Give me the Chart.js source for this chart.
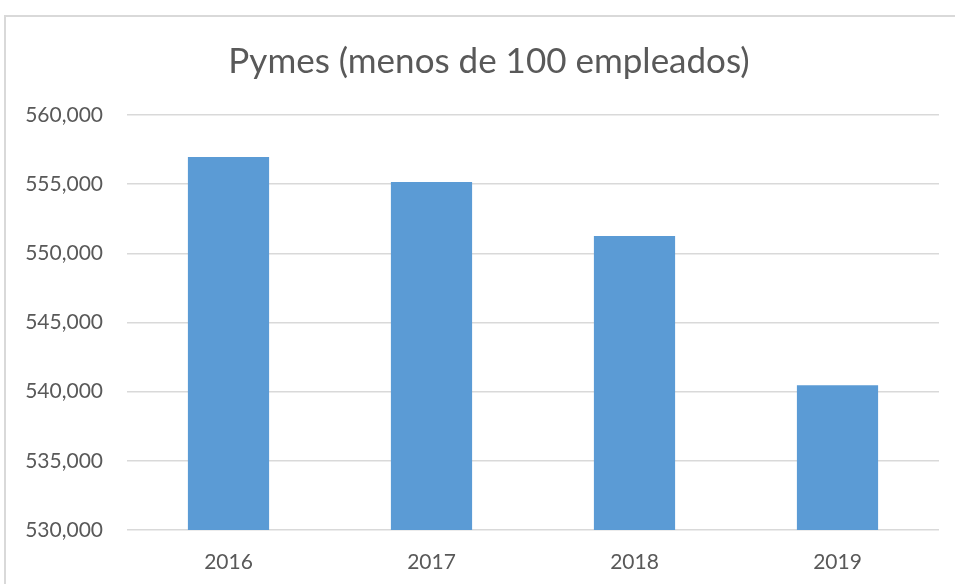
<!DOCTYPE html>
<html>
<head>
<meta charset="utf-8">
<script src="https://cdn.jsdelivr.net/npm/chart.js@4.4.0/dist/chart.umd.min.js"></script>
<style>
    html, body { margin: 0; padding: 0; background: #fff; overflow: hidden; }
    #frame { position: absolute; left: 4px; top: 15px; width: 1000px; height: 600px; border-left: 2px solid #d9d9d9; border-top: 2px solid #d9d9d9; }
    #wrap { position: absolute; left: 0; top: 0; width: 955px; height: 584px; }
</style>
</head>
<body>
<div id="frame"></div>
<div id="wrap"><canvas id="chart" width="955" height="584"></canvas></div>
<script>
// datos
const years = ['2016', '2017', '2018', '2019'];
const pymes = [556970, 555150, 551250, 540470];
const yMin = 530000;
const yMax = 560000;
const yStep = 5000;
const chartTitle = 'Pymes (menos de 100 empleados)';

const textColor = '#595959';
const fontFamily = 'Lato, "Open Sans", sans-serif';

// titulo centrado sobre todo el marco (no solo el area del grafico)
const titlePlugin = {
    id: 'frameTitle',
    afterDraw(chart) {
        const ctx = chart.ctx;
        ctx.save();
        ctx.fillStyle = textColor;
        ctx.font = '35px ' + fontFamily;
        ctx.textAlign = 'center';
        ctx.textBaseline = 'middle';
        ctx.fillText(chartTitle, 489, 62);
        ctx.restore();
    }
};

new Chart(document.getElementById('chart').getContext('2d'), {
    type: 'bar',
    data: {
        labels: years,
        datasets: [{
            label: 'Pymes',
            data: pymes,
            backgroundColor: '#5b9bd5',
            borderWidth: 0,
            categoryPercentage: 1,
            barPercentage: 0.4
        }]
    },
    options: {
        responsive: false,
        animation: false,
        layout: { padding: { left: 0, right: 16, top: 115, bottom: 0 } },
        plugins: {
            legend: { display: false },
            tooltip: { enabled: false },
            title: { display: false }
        },
        scales: {
            x: {
                grid: { display: false },
                border: { display: false },
                ticks: { color: textColor, font: { family: fontFamily, size: 21 }, padding: 12 },
                afterFit: s => { s.height = 54; }
            },
            y: {
                min: yMin,
                max: yMax,
                grid: { color: '#d9d9d9', lineWidth: 1.5, drawTicks: false },
                border: { display: false },
                ticks: {
                    stepSize: yStep,
                    color: textColor,
                    font: { family: fontFamily, size: 21 },
                    padding: 24,
                    callback: v => v.toLocaleString('en-US')
                },
                afterFit: s => { s.width = 127; }
            }
        }
    },
    plugins: [titlePlugin]
});
</script>
</body>
</html>
